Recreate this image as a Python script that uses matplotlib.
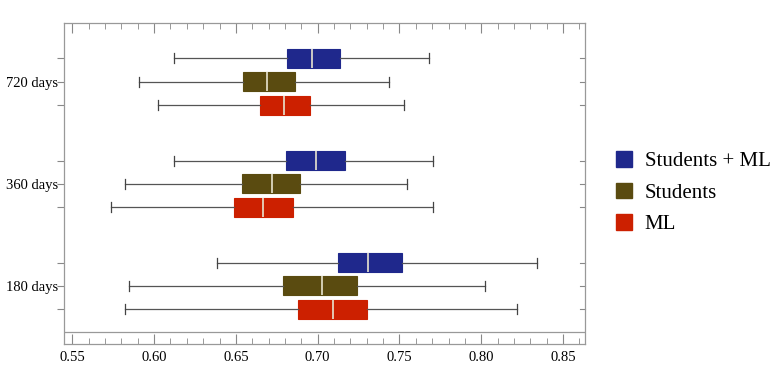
import matplotlib
matplotlib.use('Agg')
import matplotlib.pyplot as plt
from matplotlib.patches import Patch
from matplotlib.ticker import MultipleLocator

plt.rcParams['font.family'] = ['Liberation Serif', 'DejaVu Serif']

periods = ['180 days', '360 days', '720 days']
series = ['Students + ML', 'Students', 'ML']
colors = ['#1f288c', '#5a4b10', '#cc2000']

# per series: one entry per period (180, 360, 720)
whislo = {
    'Students + ML': [0.6383, 0.6123, 0.6123],
    'Students': [0.5848, 0.5824, 0.5908],
    'ML': [0.5820, 0.5737, 0.6024],
}
q1 = {
    'Students + ML': [0.7122, 0.6806, 0.6812],
    'Students': [0.6786, 0.6539, 0.6542],
    'ML': [0.6881, 0.6490, 0.6645],
}
med = {
    'Students + ML': [0.7309, 0.6990, 0.6967],
    'Students': [0.7024, 0.6721, 0.6692],
    'ML': [0.7092, 0.6667, 0.6792],
}
q3 = {
    'Students + ML': [0.7513, 0.7167, 0.7134],
    'Students': [0.7242, 0.6894, 0.6863],
    'ML': [0.7301, 0.6851, 0.6955],
}
whishi = {
    'Students + ML': [0.8340, 0.7703, 0.7682],
    'Students': [0.8021, 0.7548, 0.7438],
    'ML': [0.8216, 0.7703, 0.7529],
}

offsets = [0.228, 0.0, -0.228]

fig = plt.figure(figsize=(7.8, 3.71), dpi=100)
ax = fig.add_axes([0.0824, 0.072, 0.6676, 0.865])

all_pos = []
for s, name in enumerate(series):
    stats = []
    pos = []
    for p in range(len(periods)):
        stats.append(dict(whislo=whislo[name][p], q1=q1[name][p], med=med[name][p],
                          q3=q3[name][p], whishi=whishi[name][p], fliers=[]))
        pos.append(p + 1 + offsets[s])
    all_pos += pos
    ax.bxp(stats, positions=pos, widths=0.186, orientation='horizontal',
           patch_artist=True, showfliers=False, capwidths=0.098,
           boxprops=dict(facecolor=colors[s], edgecolor=colors[s], linewidth=0.8),
           medianprops=dict(color='#e8e4d0', linewidth=1.2),
           whiskerprops=dict(color='#555555', linewidth=0.9),
           capprops=dict(color='#444444', linewidth=0.9))

ax.axhline(0.546, color='#999999', linewidth=0.9)

ax.set_xlim(0.5451, 0.8634)
ax.set_ylim(0.428, 3.572)

for sp in ax.spines.values():
    sp.set_color('#999999')
    sp.set_linewidth(0.9)

ax.set_xticks([0.55, 0.60, 0.65, 0.70, 0.75, 0.80, 0.85])
ax.set_xticklabels(['0.55', '0.60', '0.65', '0.70', '0.75', '0.80', '0.85'])
ax.xaxis.set_minor_locator(MultipleLocator(0.01))
ax.tick_params(axis='x', which='major', direction='in', top=True, length=7,
               color='#888888', labelsize=10.5, pad=5)
ax.tick_params(axis='x', which='minor', direction='in', top=True, length=4,
               color='#888888')

ax.set_yticks(sorted(all_pos))
ylabels = []
for t in sorted(all_pos):
    idx = int(round(t)) - 1
    ylabels.append(periods[idx] if abs(t - round(t)) < 1e-6 else '')
ax.set_yticklabels(ylabels)
ax.tick_params(axis='y', which='major', direction='out', length=4.7,
               color='#888888', labelsize=10.5, pad=0)
for t in sorted(all_pos):
    ax.plot([0.8634 - 0.003, 0.8634], [t, t], color='#888888', linewidth=0.8,
            clip_on=False)

handles = [Patch(facecolor=c, edgecolor=c) for c in colors]
fig.legend(handles, series, loc='center left', bbox_to_anchor=(0.766, 0.48),
           frameon=False, fontsize=15, handlelength=0.77, handleheight=0.77,
           handletextpad=0.6, labelspacing=0.55)

fig.savefig('out.png', dpi=100)
